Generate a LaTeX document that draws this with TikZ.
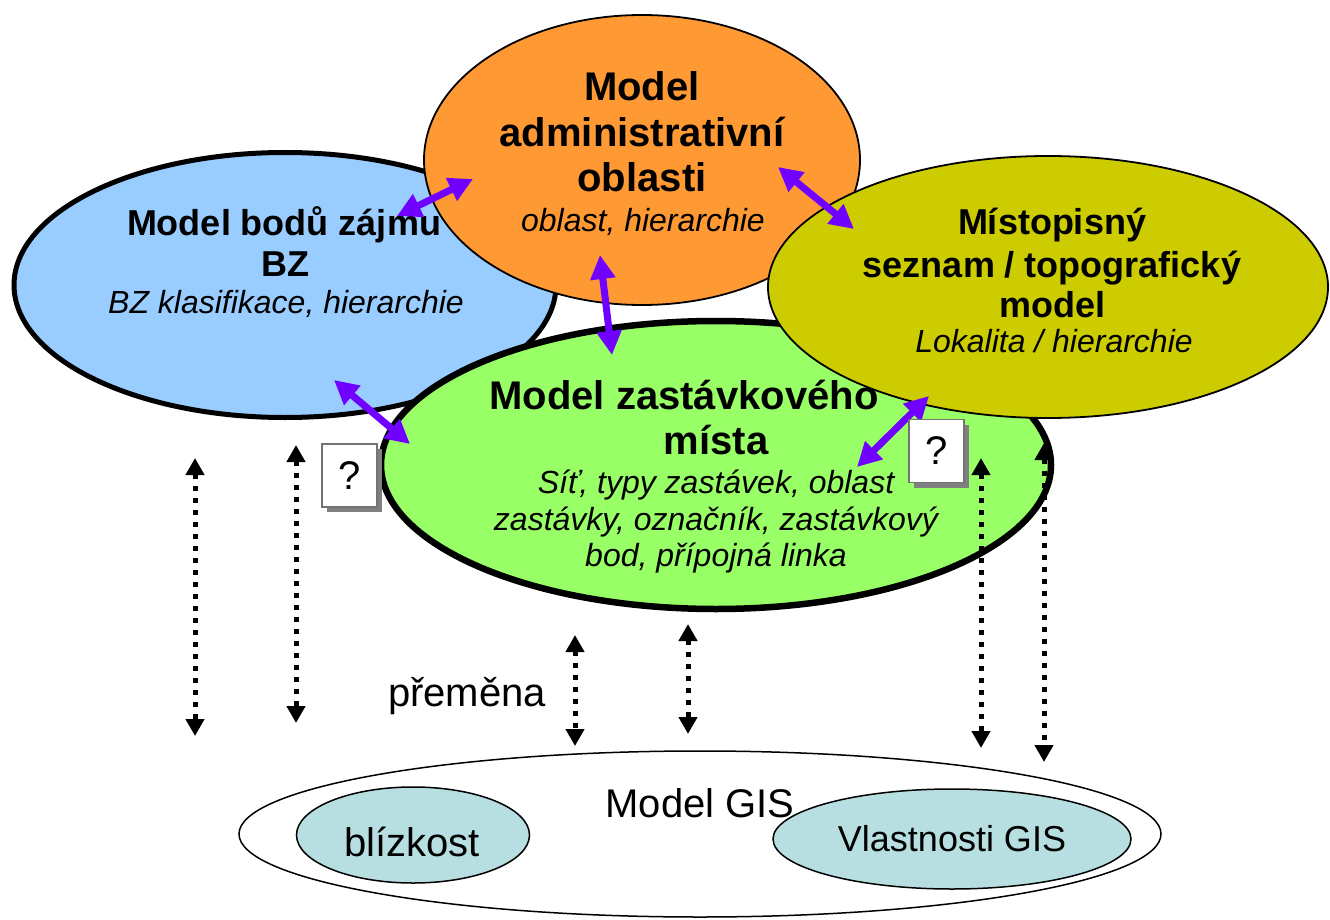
\documentclass[tikz,border=0pt]{standalone}
\usepackage{fontspec}
\setmainfont{Liberation Sans}
\usetikzlibrary{shapes.geometric, arrows.meta, shadows}

\definecolor{bzblue}{RGB}{153,204,255}
\definecolor{admorange}{RGB}{255,153,51}
\definecolor{topoyellow}{RGB}{204,204,0}
\definecolor{stopgreen}{RGB}{153,255,102}
\definecolor{gisteal}{RGB}{183,223,226}
\definecolor{linkviolet}{RGB}{112,0,255}

\begin{document}
\begin{tikzpicture}[x=1pt, y=-1pt,
  oval/.style={ellipse, inner sep=0pt, outer sep=0pt, draw=black},
  head/.style={font=\fontsize{40}{46}\selectfont\bfseries, anchor=base, inner sep=0pt},
  headsm/.style={font=\fontsize{36}{41}\selectfont\bfseries, anchor=base, inner sep=0pt},
  sub/.style={font=\fontsize{32}{37}\selectfont\itshape, anchor=base, inner sep=0pt},
  plain/.style={font=\fontsize{40}{46}\selectfont, anchor=base, inner sep=0pt},
  link/.style={draw=linkviolet, line width=7pt,
    {Triangle[length=24pt,width=24pt]}-{Triangle[length=24pt,width=24pt]}},
  flow/.style={draw=black, line width=5pt, dash pattern=on 5pt off 7pt,
    {Triangle[length=17pt,width=18pt]}-{Triangle[length=17pt,width=18pt]}},
  qbox/.style={draw=black!55, fill=white, line width=1.5pt,
    minimum width=55pt, minimum height=63pt, inner sep=0pt,
    font=\fontsize{40}{44}\selectfont,
    general shadow={fill=black!50, shadow xshift=5pt, shadow yshift=-5pt}}
]
\useasboundingbox (0,0) rectangle (1330,920);

% the four model ellipses
\node[oval, fill=bzblue, line width=5pt, minimum width=542pt, minimum height=265pt] (bz) at (285,285) {};
\node[oval, fill=stopgreen, line width=6.5pt, minimum width=670pt, minimum height=288pt] (stop) at (716,465) {};
\node[oval, fill=admorange, line width=1.8pt, minimum width=436pt, minimum height=290pt] (adm) at (642,160) {};
\node[oval, fill=topoyellow, line width=1.8pt, minimum width=560pt, minimum height=262pt] (topo) at (1048,287) {};

% texts of the models
\node[headsm] (bzt1) at (284,236) {Model bodů zájmu};
\node[headsm] (bzt2) at (285,276) {BZ};
\node[sub]  (bzt3) at (286,313) {BZ klasifikace, hierarchie};

\node[head] (admt1) at (642,101) {Model};
\node[head] (admt2) at (642,147) {administrativní};
\node[head] (admt3) at (642,192) {oblasti};
\node[sub]  (admt4) at (643,231) {oblast, hierarchie};

\node[headsm] (topot1) at (1052,234) {Místopisný};
\node[headsm] (topot2) at (1052,277) {seznam / topografický};
\node[headsm] (topot3) at (1052,317) {model};
\node[sub]  (topot4) at (1054,352) {Lokalita / hierarchie};

\node[head] (stopt1) at (684,409) {Model zastávkového};
\node[head] (stopt2) at (716,454) {místa};
\node[sub]  (stopt3) at (716,493) {Síť, typy zastávek, oblast};
\node[sub]  (stopt4) at (716,530) {zastávky, označník, zastávkový};
\node[sub]  (stopt5) at (716,566) {bod, přípojná linka};

% ends of the links between models
\coordinate (l1a) at (397,216);  \coordinate (l1b) at (473,179);
\coordinate (l2a) at (778,167);  \coordinate (l2b) at (854,229);
\coordinate (l3a) at (600,255);  \coordinate (l3b) at (612,355);
\coordinate (l4a) at (334,380);  \coordinate (l4b) at (410,444);
\coordinate (l5a) at (857,467);  \coordinate (l5b) at (929,396);

\draw[link] (l1a) -- (l1b);
\draw[link] (l2a) -- (l2b);
\draw[link] (l3a) -- (l3b);
\draw[link] (l4a) -- (l4b);
\draw[link] (l5a) -- (l5b);

% open questions
\node[qbox] (q1) at (349.5,475.5) {?};
\node[qbox] (q2) at (936.5,451) {?};

% GIS model
\node[oval, line width=1.5pt, minimum width=922pt, minimum height=166pt] (gis) at (700,834) {};
\node[oval, fill=gisteal, line width=1.5pt, minimum width=233pt, minimum height=96pt] (near) at (413,835) {};
\node[oval, fill=gisteal, line width=1.5pt, minimum width=358pt, minimum height=100pt] (gisprop) at (952,839) {};
\node[plain] (gist) at (700,817) {Model GIS};
\node[plain] (neart) at (412,856) {blízkost};
\node[plain, font=\fontsize{36}{40}\selectfont] (gispropt) at (952,851) {Vlastnosti GIS};

\node[plain] (conv) at (467,706) {přeměna};

% transformation flows towards the GIS model
\coordinate (f1a) at (195,458);  \coordinate (f1b) at (195,736);
\coordinate (f2a) at (296,445);  \coordinate (f2b) at (296,723);
\coordinate (f3a) at (575,635);  \coordinate (f3b) at (575,746);
\coordinate (f4a) at (688,624);  \coordinate (f4b) at (688,734);
\coordinate (f5a) at (981,458);  \coordinate (f5b) at (981,748);
\coordinate (f6a) at (1044,443); \coordinate (f6b) at (1044,762);

\draw[flow] (f1a) -- (f1b);
\draw[flow] (f2a) -- (f2b);
\draw[flow] (f3a) -- (f3b);
\draw[flow] (f4a) -- (f4b);
\draw[flow] (f5a) -- (f5b);
\draw[flow] (f6a) -- (f6b);
\end{tikzpicture}
\end{document}
